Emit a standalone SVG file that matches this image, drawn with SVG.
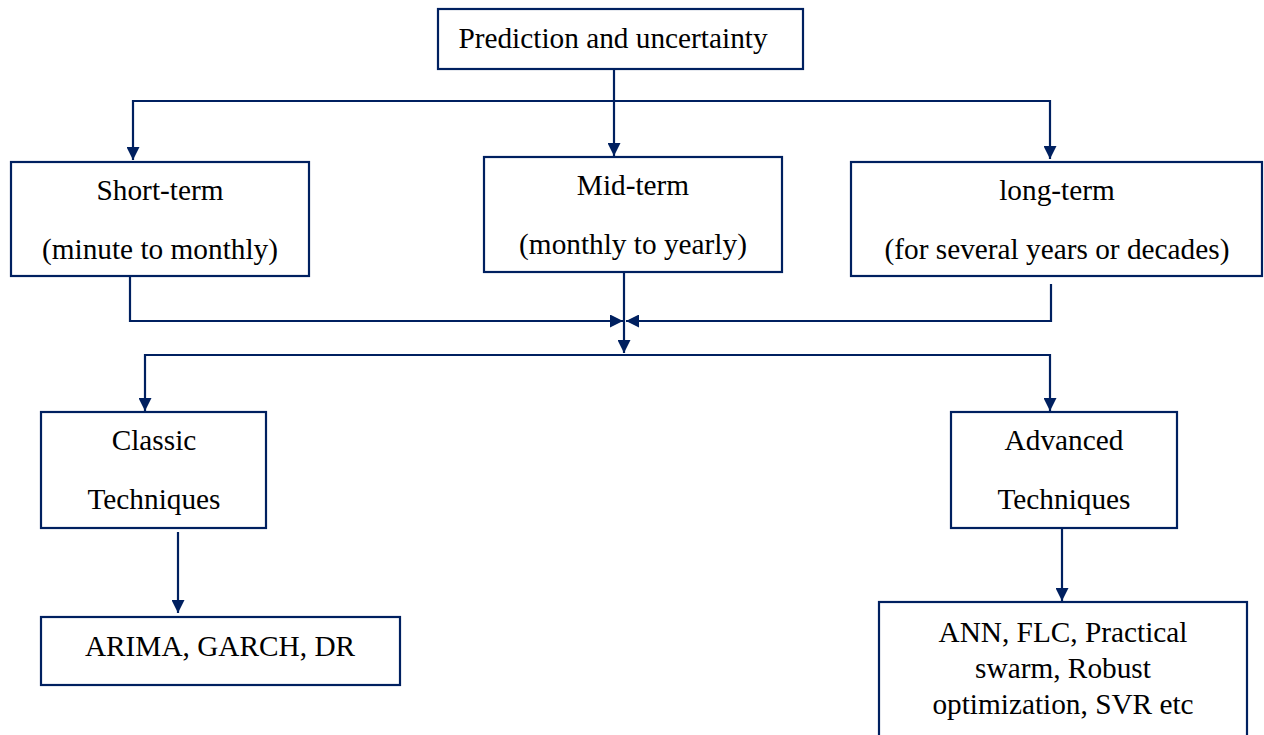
<svg xmlns="http://www.w3.org/2000/svg" width="1264" height="735" viewBox="0 0 1264 735">
<defs>
<style>
.box{fill:#fff;stroke:#002060;stroke-width:2.2}
.t{font-family:"Liberation Serif","Times New Roman",serif;font-size:29.3px;fill:#000;text-anchor:middle}
.c{fill:none;stroke:#002060;stroke-width:2.2}
</style>
<marker id="ahb" viewBox="0 0 10 10" refX="10" refY="5" markerWidth="13" markerHeight="13" markerUnits="userSpaceOnUse" orient="auto">
<path d="M0,0 L10,5 L0,10 z" fill="#002060"/>
</marker>
</defs>
<rect width="1264" height="735" fill="#fff"/>
<g id="connectors">
<path class="c" d="M614,69 V156" marker-end="url(#ahb)"/>
<path class="c" d="M614,101 H133 V160" marker-end="url(#ahb)"/>
<path class="c" d="M614,101 H1050 V159" marker-end="url(#ahb)"/>
<path class="c" d="M130,276 V321 H623" marker-end="url(#ahb)"/>
<path class="c" d="M1051,284 V321 H626" marker-end="url(#ahb)"/>
<path class="c" d="M624,272 V353" marker-end="url(#ahb)"/>
<path class="c" d="M622,355 H145 V411" marker-end="url(#ahb)"/>
<path class="c" d="M622,355 H1050 V411" marker-end="url(#ahb)"/>
<path class="c" d="M178,532 V613" marker-end="url(#ahb)"/>
<path class="c" d="M1062,524 V601" marker-end="url(#ahb)"/>
</g>
<g id="n-top"><rect class="box" x="438" y="9" width="365" height="60"/><text class="t" x="613" y="48">Prediction and uncertainty</text></g>
<g id="n-short"><rect class="box" x="11" y="162" width="298" height="114"/><text class="t" x="160" y="200">Short-term</text><text class="t" x="160" y="259">(minute to monthly)</text></g>
<g id="n-mid"><rect class="box" x="484" y="157" width="298" height="115"/><text class="t" x="633" y="195">Mid-term</text><text class="t" x="633" y="254">(monthly to yearly)</text></g>
<g id="n-long"><rect class="box" x="851" y="162" width="411" height="114"/><text class="t" x="1057" y="200">long-term</text><text class="t" x="1057" y="259">(for several years or decades)</text></g>
<g id="n-classic"><rect class="box" x="41" y="412" width="225" height="116"/><text class="t" x="154" y="450">Classic</text><text class="t" x="154" y="509">Techniques</text></g>
<g id="n-adv"><rect class="box" x="951" y="412" width="226" height="116"/><text class="t" x="1064" y="450">Advanced</text><text class="t" x="1064" y="509">Techniques</text></g>
<g id="n-arima"><rect class="box" x="41" y="617" width="359" height="68"/><text class="t" x="220" y="656">ARIMA, GARCH, DR</text></g>
<g id="n-ann"><rect class="box" x="879" y="602" width="368" height="140"/><text class="t" x="1063" y="642">ANN, FLC, Practical</text><text class="t" x="1063" y="678">swarm, Robust</text><text class="t" x="1063" y="714">optimization, SVR etc</text></g>
</svg>
